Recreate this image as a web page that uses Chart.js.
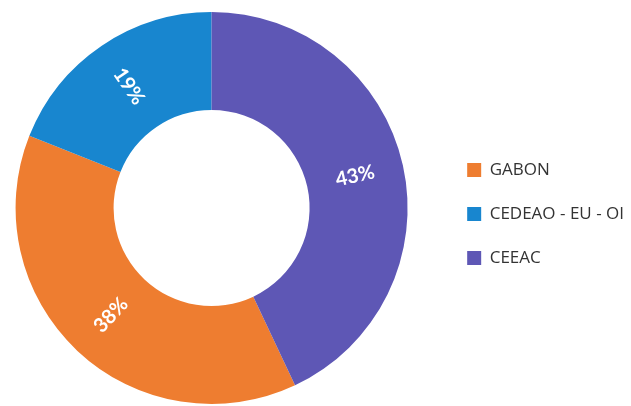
<!DOCTYPE html>
<html>
<head>
<meta charset="utf-8">
<script src="https://cdn.jsdelivr.net/npm/chart.js@4/dist/chart.umd.min.js"></script>
<style>
  html, body { margin: 0; padding: 0; background: #ffffff; }
  #wrap { width: 631px; height: 406px; position: relative; }
</style>
</head>
<body>
<div id="wrap"><canvas id="c"></canvas></div>
<script>
const categories = ['GABON', 'CEDEAO - EU - OI', 'CEEAC'];
const shares = [38, 19, 43];
const sliceLabels = ['38%', '19%', '43%'];
const sliceColors = ['#EE7D30', '#1886CF', '#5E57B5'];

const sliceLabelPlugin = {
  id: 'sliceLabels',
  afterDatasetsDraw(chart) {
    const ctx = chart.ctx;
    const meta = chart.getDatasetMeta(0);
    meta.data.forEach((arc, i) => {
      const p = arc.getProps(['x', 'y', 'startAngle', 'endAngle', 'innerRadius', 'outerRadius'], true);
      const mid = (p.startAngle + p.endAngle) / 2;
      const r = (p.innerRadius + p.outerRadius) / 2;
      const x = p.x + Math.cos(mid) * r;
      const y = p.y + Math.sin(mid) * r;
      let rot = mid;
      while (rot > Math.PI / 2) rot -= Math.PI;
      while (rot <= -Math.PI / 2) rot += Math.PI;
      ctx.save();
      ctx.translate(x, y);
      ctx.rotate(rot);
      ctx.font = 'bold 20px Lato, "Open Sans", sans-serif';
      ctx.fillStyle = '#ffffff';
      ctx.textAlign = 'center';
      ctx.textBaseline = 'middle';
      ctx.fillText(sliceLabels[i], 0, 0);
      ctx.restore();
    });
  }
};

// move the legend block a little to the right of the plot area and down
const legendShiftPlugin = {
  id: 'legendShift',
  afterLayout(chart) {
    const lg = chart.legend;
    if (!lg) return;
    const dx = 17, dy = 6;
    lg.left += dx; lg.right += dx;
    lg.top += dy; lg.bottom += dy;
  }
};

new Chart(document.getElementById('c'), {
  type: 'doughnut',
  data: {
    labels: categories,
    datasets: [{
      data: shares,
      backgroundColor: sliceColors,
      borderWidth: 0
    }]
  },
  options: {
    responsive: true,
    maintainAspectRatio: false,
    animation: false,
    rotation: 154.8,
    cutout: '50%',
    layout: { padding: { left: 0, right: 14, top: 12, bottom: 2 } },
    plugins: {
      legend: {
        position: 'right',
        align: 'center',
        labels: {
          boxWidth: 14,
          boxHeight: 14,
          padding: 27,
          color: '#333333',
          font: { family: '"Open Sans", sans-serif', size: 17 }
        }
      },
      tooltip: { enabled: false }
    }
  },
  plugins: [sliceLabelPlugin, legendShiftPlugin]
});
</script>
</body>
</html>
